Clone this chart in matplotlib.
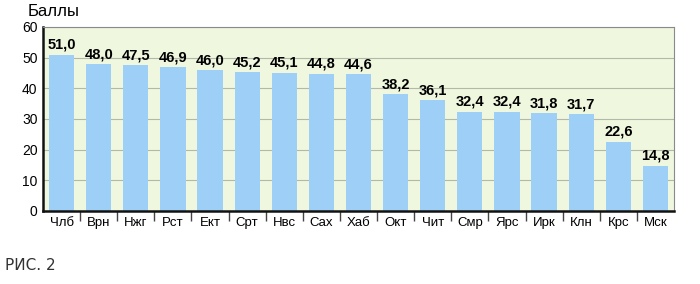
import matplotlib.pyplot as plt
import numpy as np

plt.rcParams['font.family'] = ['Liberation Sans', 'DejaVu Sans']

cities = ["Члб", "Врн", "Нжг", "Рст", "Ект", "Срт", "Нвс", "Сах", "Хаб",
          "Окт", "Чит", "Смр", "Ярс", "Ирк", "Клн", "Крс", "Мск"]
scores = [51.0, 48.0, 47.5, 46.9, 46.0, 45.2, 45.1, 44.8, 44.6,
          38.2, 36.1, 32.4, 32.4, 31.8, 31.7, 22.6, 14.8]
y_ticks = [0, 10, 20, 30, 40, 50, 60]

fig = plt.figure(figsize=(7, 2.84), dpi=100)
ax = fig.add_axes([43 / 700, 1 - 211 / 284, 631 / 700, 184 / 284])
ax.set_facecolor("#eff7de")

x = np.arange(len(cities))
ax.bar(x, scores, width=0.68, color="#9dcff7", zorder=2)

# value labels above bars
for xi, val in zip(x, scores):
    ax.text(xi, val + 0.9, "{:.1f}".format(val).replace(".", ","),
            ha="center", va="bottom", fontsize=10.5, fontweight="bold", zorder=3)

ax.set_xlim(-0.5, len(cities) - 0.5)
ax.set_ylim(0, 60)
ax.set_yticks(y_ticks)
ax.set_yticklabels([str(t) for t in y_ticks], fontsize=10)
ax.yaxis.grid(True, color="#b4b8aa", linewidth=0.8, zorder=1)
ax.tick_params(axis="y", length=0, pad=4)

ax.set_xticks(x)
ax.set_xticklabels(cities, fontsize=9.5)
ax.tick_params(axis="x", which="major", length=0, pad=4)
ax.set_xticks(x[:-1] + 0.5, minor=True)
ax.tick_params(axis="x", which="minor", length=7, width=1, direction="out", color="#444444")

for side in ["left", "bottom"]:
    ax.spines[side].set_linewidth(1.8)
    ax.spines[side].set_color("#111111")
for side in ["top", "right"]:
    ax.spines[side].set_linewidth(0.8)
    ax.spines[side].set_color("#8a8a8a")

fig.text(28 / 700, 1 - 12 / 284, "Баллы", fontsize=12, va="center", ha="left")
fig.text(5 / 700, 1 - 266 / 284, "РИС. 2", fontsize=11, va="center", ha="left",
         color="#333333", family="DejaVu Sans")

fig.savefig("out.png")
plt.close()
